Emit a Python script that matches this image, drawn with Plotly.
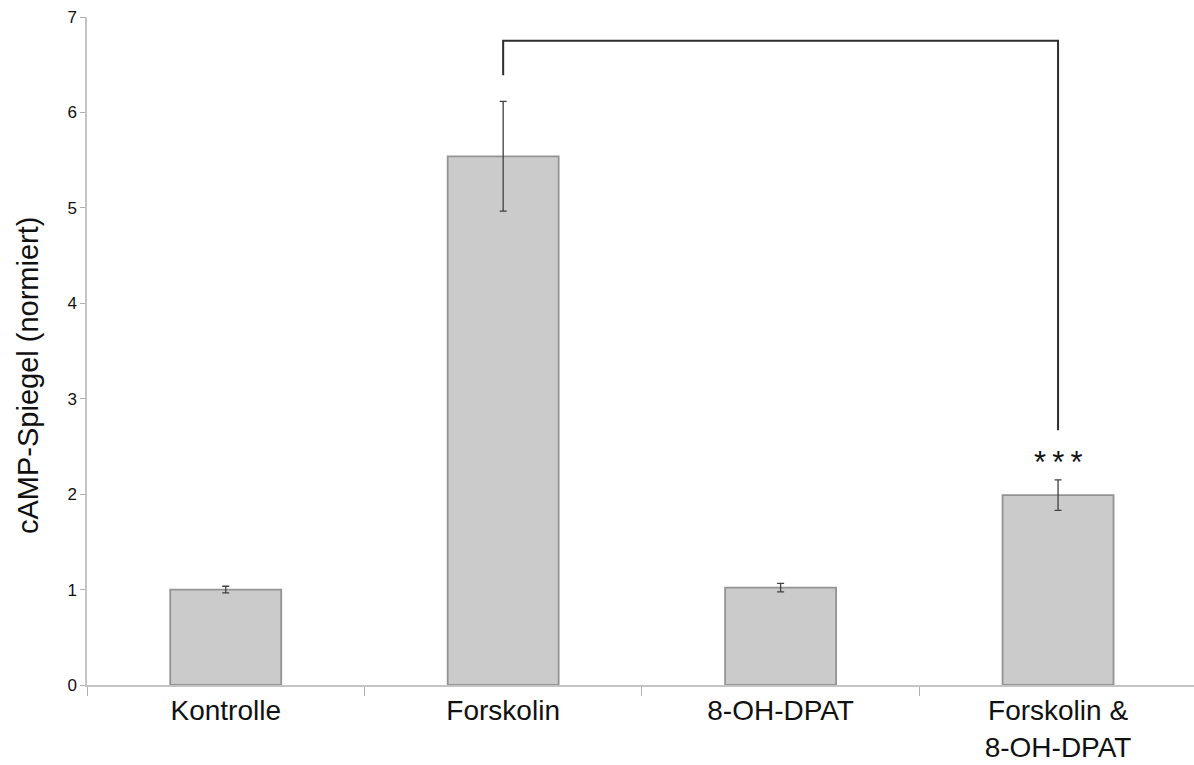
import plotly.graph_objects as go

# Treatment groups and normalised cAMP levels
groups = ["Kontrolle", "Forskolin", "8-OH-DPAT", "Forskolin &<br>8-OH-DPAT"]
camp_mean = [1.00, 5.54, 1.02, 1.99]
camp_err = [0.035, 0.575, 0.045, 0.16]

# Significance bracket between Forskolin and the combined treatment
bracket_x = [groups[1], groups[1], groups[3], groups[3]]
bracket_y = [6.39, 6.75, 6.75, 2.67]
sig_label = "*\u2009*\u2009*"
sig_y = 2.33

FONT = "Liberation Sans, Arial, sans-serif"

fig = go.Figure()

fig.add_trace(go.Bar(
    x=groups,
    y=camp_mean,
    width=0.4,
    marker=dict(color="#cbcbcb", line=dict(color="#939393", width=1.8)),
    error_y=dict(type="data", array=camp_err, visible=True,
                 color="#404040", thickness=1.3, width=3.5),
    showlegend=False,
    hoverinfo="x+y",
))

fig.add_trace(go.Scatter(
    x=bracket_x,
    y=bracket_y,
    mode="lines",
    line=dict(color="#2e2e2e", width=2),
    showlegend=False,
    hoverinfo="skip",
))

fig.add_annotation(
    x=groups[3], y=sig_y, text=sig_label, showarrow=False,
    font=dict(family=FONT, size=31, color="#111111"),
    xanchor="center", yanchor="middle",
)

# Rotated axis title placed beside the value axis
fig.add_annotation(
    x=-59 / 1107, y=(685 - 376) / 668, xref="paper", yref="paper",
    text="cAMP-Spiegel (normiert)", textangle=-90, showarrow=False,
    font=dict(family=FONT, size=29, color="#111111"),
    xanchor="center", yanchor="middle",
)

fig.update_layout(
    width=1194,
    height=765,
    margin=dict(l=87, r=0, t=17, b=80),
    plot_bgcolor="white",
    paper_bgcolor="white",
    font=dict(family=FONT, color="#111111"),
    bargap=0.6,
)

fig.update_xaxes(
    type="category",
    range=[-0.5, 3.49],
    automargin=False,
    showline=True, linecolor="#c4c4c4", linewidth=1.5,
    ticks="outside", tickson="boundaries", ticklen=9,
    tickcolor="#b0b0b0", tickwidth=1,
    ticklabelstandoff=0,
    tickfont=dict(family=FONT, size=28, color="#111111"),
    showgrid=False, zeroline=False,
)

fig.update_yaxes(
    range=[0, 7], dtick=1,
    automargin=False,
    showline=True, linecolor="#c4c4c4", linewidth=1.5,
    ticks="outside", ticklen=5, tickcolor="#b0b0b0", tickwidth=1,
    tickfont=dict(family=FONT, size=17, color="#111111"),
    showgrid=False, zeroline=False,
)

fig.write_html("out.html")
